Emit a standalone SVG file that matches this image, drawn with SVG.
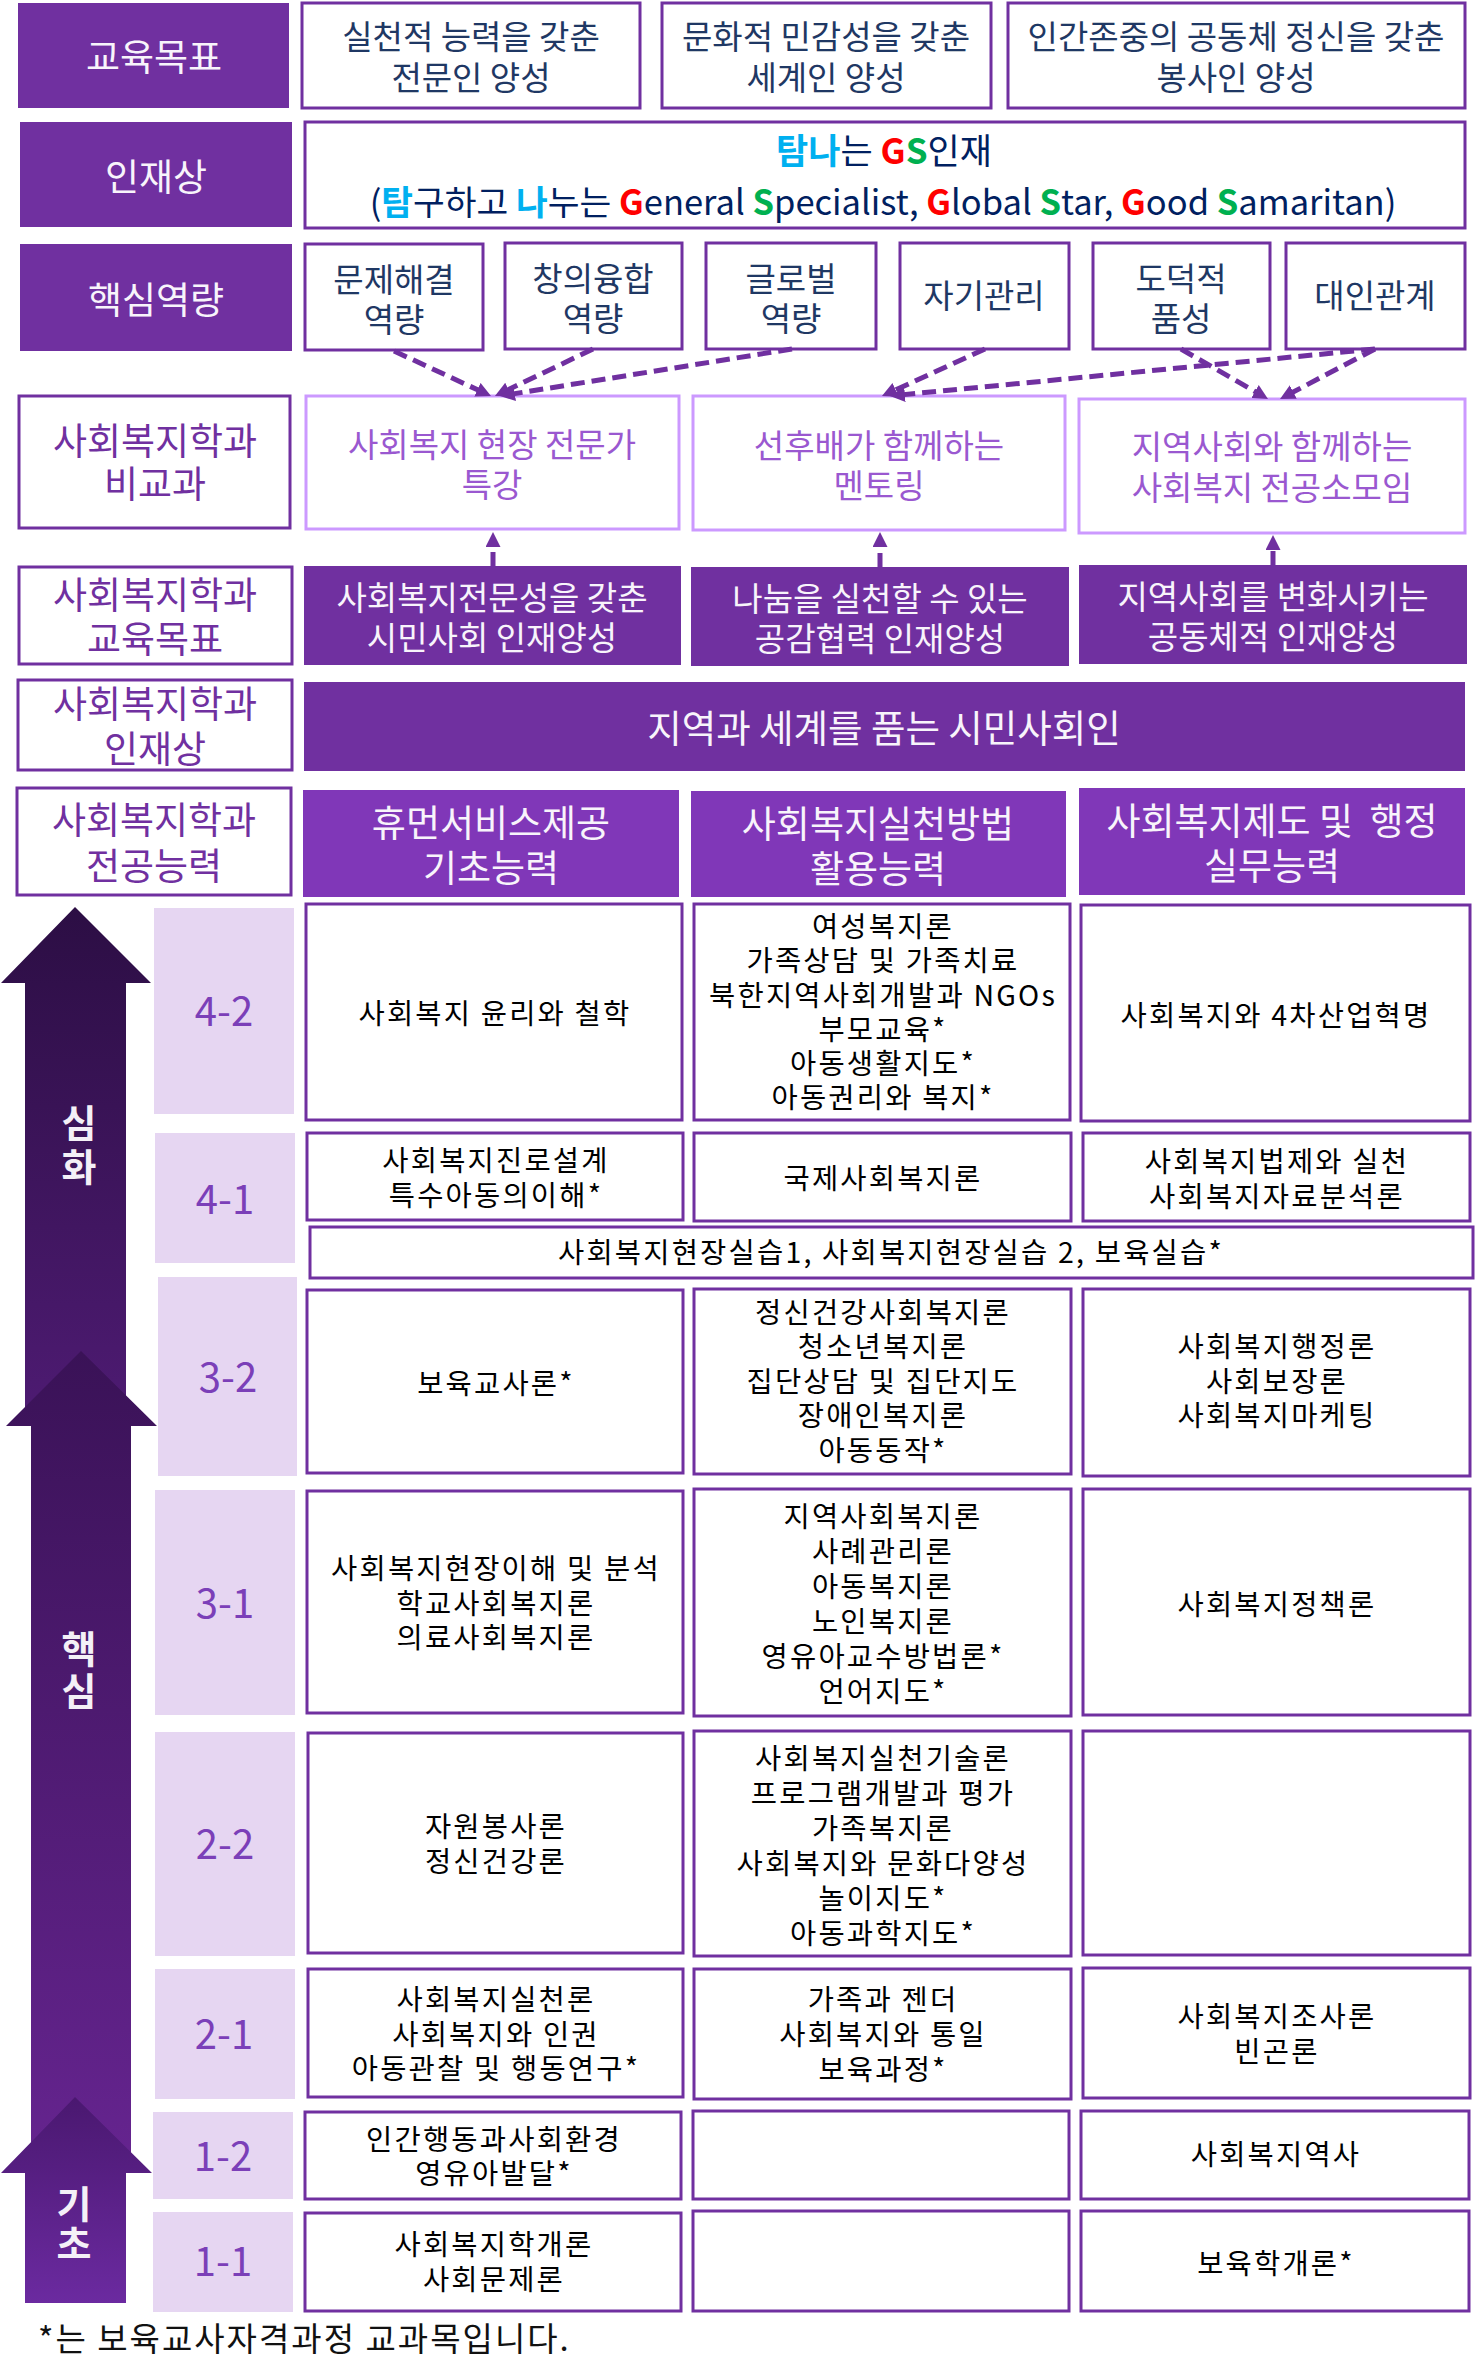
<svg xmlns="http://www.w3.org/2000/svg" width="1475" height="2380" viewBox="0 0 1475 2380">
<style>
text{font-family:"Noto Sans CJK KR","Noto Sans",sans-serif;text-anchor:middle;dominant-baseline:central}
.hd{fill:#7030A0}
.hd2{fill:#8037B8}
.bx{fill:#fff;stroke:#7030A0;stroke-width:3}
.lbx{fill:#fff;stroke:#CC99FF;stroke-width:3}
.sem{fill:#E6D6F2}
.tw{fill:#F8F4FB;font-size:37px}
.tw30{fill:#F8F4FB;font-size:33px}
.tn{fill:#1F3864;font-size:33px}
.tp{fill:#7030A0;font-size:37px}
.tl{fill:#9A58D0;font-size:33px}
.tc{fill:#000;font-size:28.5px;letter-spacing:2.2px}
.ts{fill:#7B3FB8;font-size:40px}
.ta{fill:#F4F0F7;font-size:38px;font-weight:bold}
.cy{fill:#00B0F0;font-weight:bold}
.rd{fill:#FF0000;font-weight:bold}
.gr{fill:#00B050;font-weight:bold}
.conn{stroke:#7030A0;stroke-width:5;stroke-dasharray:14 7;fill:none}
</style>
<defs>
<marker id="ah" viewBox="0 0 10 10" refX="3.3" refY="5" markerWidth="3" markerHeight="3" orient="auto">
<path d="M0,0 L10,5 L0,10 z" fill="#7030A0"/>
</marker>
<linearGradient id="g1" gradientUnits="userSpaceOnUse" x1="0" y1="907" x2="0" y2="1426">
<stop offset="0" stop-color="#2C0E44"/><stop offset="1" stop-color="#4E1B73"/>
</linearGradient>
<linearGradient id="g2" gradientUnits="userSpaceOnUse" x1="0" y1="1351" x2="0" y2="2160">
<stop offset="0" stop-color="#3A1257"/><stop offset="1" stop-color="#65248F"/>
</linearGradient>
<linearGradient id="g3" gradientUnits="userSpaceOnUse" x1="0" y1="2097" x2="0" y2="2303">
<stop offset="0" stop-color="#4A1870"/><stop offset="1" stop-color="#6B2AA0"/>
</linearGradient>
</defs>
<rect width="1475" height="2380" fill="#fff"/>

<!-- Row 1: 교육목표 -->
<g id="label-edu-goal"><rect class="hd" x="18" y="3" width="271" height="105"/><text class="tw" x="154" y="55">교육목표</text></g>
<g id="goal-1"><rect class="bx" x="302" y="3" width="338" height="105"/><text class="tn" x="471" y="35">실천적 능력을 갖춘</text><text class="tn" x="471" y="76">전문인 양성</text></g>
<g id="goal-2"><rect class="bx" x="662" y="3" width="329" height="105"/><text class="tn" x="826" y="35">문화적 민감성을 갖춘</text><text class="tn" x="826" y="76">세계인 양성</text></g>
<g id="goal-3"><rect class="bx" x="1008" y="3" width="457" height="105"/><text class="tn" x="1236" y="35">인간존중의 공동체 정신을 갖춘</text><text class="tn" x="1236" y="76">봉사인 양성</text></g>

<!-- Row 2: 인재상 -->
<g id="label-talent"><rect class="hd" x="20" y="122" width="272" height="105"/><text class="tw" x="156" y="175">인재상</text></g>
<g id="talent"><rect class="bx" x="305" y="122" width="1160" height="106"/>
<text x="884" y="148" style="font-size:35px;fill:#002060"><tspan class="cy">탐나</tspan>는 <tspan class="rd">G</tspan><tspan class="gr">S</tspan>인재</text>
<text x="883" y="200" style="font-size:34.5px;fill:#002060">(<tspan class="cy">탐</tspan>구하고 <tspan class="cy">나</tspan>누는 <tspan class="rd">G</tspan>eneral <tspan class="gr">S</tspan>pecialist, <tspan class="rd">G</tspan>lobal <tspan class="gr">S</tspan>tar, <tspan class="rd">G</tspan>ood <tspan class="gr">S</tspan>amaritan)</text>
</g>

<!-- Row 3: 핵심역량 -->
<g id="label-core"><rect class="hd" x="20" y="244" width="272" height="107"/><text class="tw" x="156" y="298">핵심역량</text></g>
<g id="core-1"><rect class="bx" x="305" y="244" width="178" height="106"/><text class="tn" x="394" y="278">문제해결</text><text class="tn" x="394" y="318">역량</text></g>
<g id="core-2"><rect class="bx" x="505" y="243" width="177" height="106"/><text class="tn" x="593" y="277">창의융합</text><text class="tn" x="593" y="317">역량</text></g>
<g id="core-3"><rect class="bx" x="706" y="243" width="170" height="106"/><text class="tn" x="791" y="277">글로벌</text><text class="tn" x="791" y="317">역량</text></g>
<g id="core-4"><rect class="bx" x="900" y="243" width="169" height="106"/><text class="tn" x="984" y="294">자기관리</text></g>
<g id="core-5"><rect class="bx" x="1093" y="243" width="177" height="106"/><text class="tn" x="1181" y="277">도덕적</text><text class="tn" x="1181" y="317">품성</text></g>
<g id="core-6"><rect class="bx" x="1286" y="243" width="179" height="106"/><text class="tn" x="1375" y="294">대인관계</text></g>

<!-- Row 4: 비교과 -->
<g id="label-extra"><rect class="bx" x="19" y="396" width="271" height="132"/><text class="tp" x="155" y="439">사회복지학과</text><text class="tp" x="155" y="482">비교과</text></g>
<g id="extra-1"><rect class="lbx" x="306" y="396" width="373" height="133"/><text class="tl" x="492" y="443">사회복지 현장 전문가</text><text class="tl" x="492" y="483">특강</text></g>
<g id="extra-2"><rect class="lbx" x="693" y="396" width="372" height="134"/><text class="tl" x="879" y="444">선후배가 함께하는</text><text class="tl" x="879" y="484">멘토링</text></g>
<g id="extra-3"><rect class="lbx" x="1079" y="399" width="386" height="134"/><text class="tl" x="1272" y="445">지역사회와 함께하는</text><text class="tl" x="1272" y="486">사회복지 전공소모임</text></g>

<!-- Row 5: 학과 교육목표 -->
<g id="label-dept-goal"><rect class="bx" x="19" y="567" width="273" height="97"/><text class="tp" x="155" y="593">사회복지학과</text><text class="tp" x="155" y="637">교육목표</text></g>
<g id="dept-goal-1"><rect class="hd" x="304" y="566" width="377" height="99"/><text class="tw30" x="492" y="596">사회복지전문성을 갖춘</text><text class="tw30" x="492" y="636">시민사회 인재양성</text></g>
<g id="dept-goal-2"><rect class="hd" x="691" y="567" width="378" height="99"/><text class="tw30" x="880" y="597">나눔을 실천할 수 있는</text><text class="tw30" x="880" y="637">공감협력 인재양성</text></g>
<g id="dept-goal-3"><rect class="hd" x="1079" y="565" width="388" height="99"/><text class="tw30" x="1273" y="595">지역사회를 변화시키는</text><text class="tw30" x="1273" y="635">공동체적 인재양성</text></g>

<!-- Row 6: 학과 인재상 -->
<g id="label-dept-talent"><rect class="bx" x="18" y="680" width="274" height="90"/><text class="tp" x="155" y="702">사회복지학과</text><text class="tp" x="155" y="747">인재상</text></g>
<g id="dept-talent"><rect class="hd" x="304" y="682" width="1161" height="89"/><text class="tw" x="884" y="725" style="font-size:37.5px">지역과 세계를 품는 시민사회인</text></g>

<!-- Row 7: 전공능력 -->
<g id="label-major"><rect class="bx" x="17" y="788" width="274" height="107"/><text class="tp" x="154" y="818">사회복지학과</text><text class="tp" x="154" y="864">전공능력</text></g>
<g id="major-1"><rect class="hd2" x="303" y="790" width="376" height="107"/><text class="tw" x="491" y="821">휴먼서비스제공</text><text class="tw" x="491" y="866">기초능력</text></g>
<g id="major-2"><rect class="hd2" x="691" y="791" width="375" height="106"/><text class="tw" x="878" y="822">사회복지실천방법</text><text class="tw" x="878" y="867">활용능력</text></g>
<g id="major-3"><rect class="hd2" x="1079" y="788" width="386" height="107"/><text class="tw" x="1272" y="819" xml:space="preserve">사회복지제도 및  행정</text><text class="tw" x="1272" y="864">실무능력</text></g>

<!-- Level arrows -->
<g id="arrow-advanced"><polygon points="75,907 151,983 126,983 126,1426 25,1426 25,983 1,983" fill="url(#g1)"/><text class="ta" x="79"><tspan x="79" y="1120">심</tspan><tspan x="79" y="1164">화</tspan></text></g>
<g id="arrow-core"><polygon points="81,1351 157,1426 131,1426 131,2160 31,2160 31,1426 6,1426" fill="url(#g2)"/><text class="ta" x="79"><tspan x="79" y="1646">핵</tspan><tspan x="79" y="1688">심</tspan></text></g>
<g id="arrow-basic"><polygon points="75,2097 152,2173 126,2173 126,2303 25,2303 25,2173 1,2173" fill="url(#g3)"/><text class="ta" x="74"><tspan x="74" y="2201">기</tspan><tspan x="74" y="2241">초</tspan></text></g>

<!-- Semester labels -->
<g id="sem-4-2"><rect class="sem" x="154" y="908" width="140" height="206"/><text class="ts" x="224" y="1009">4-2</text></g>
<g id="sem-4-1"><rect class="sem" x="155" y="1133" width="140" height="130"/><text class="ts" x="225" y="1197">4-1</text></g>
<g id="sem-3-2"><rect class="sem" x="158" y="1277" width="139" height="199"/><text class="ts" x="228" y="1375">3-2</text></g>
<g id="sem-3-1"><rect class="sem" x="155" y="1490" width="140" height="225"/><text class="ts" x="225" y="1601">3-1</text></g>
<g id="sem-2-2"><rect class="sem" x="155" y="1732" width="140" height="224"/><text class="ts" x="225" y="1842">2-2</text></g>
<g id="sem-2-1"><rect class="sem" x="155" y="1969" width="140" height="130"/><text class="ts" x="224" y="2032">2-1</text></g>
<g id="sem-1-2"><rect class="sem" x="153" y="2112" width="140" height="87"/><text class="ts" x="223" y="2154">1-2</text></g>
<g id="sem-1-1"><rect class="sem" x="153" y="2212" width="140" height="100"/><text class="ts" x="223" y="2259">1-1</text></g>

<!-- Courses 4-2 -->
<g id="c42-1"><rect class="bx" x="306" y="904" width="376" height="216"/><text class="tc" x="495" y="1011">사회복지 윤리와 철학</text></g>
<g id="c42-2"><rect class="bx" x="694" y="904" width="376" height="216"/><text class="tc" x="883" y="924">여성복지론</text><text class="tc" x="883" y="958">가족상담 및 가족치료</text><text class="tc" x="883" y="993">북한지역사회개발과 NGOs</text><text class="tc" x="883" y="1027">부모교육*</text><text class="tc" x="883" y="1061">아동생활지도*</text><text class="tc" x="883" y="1095">아동권리와 복지*</text></g>
<g id="c42-3"><rect class="bx" x="1081" y="905" width="389" height="216"/><text class="tc" x="1276" y="1013">사회복지와 4차산업혁명</text></g>
<!-- 4-1 -->
<g id="c41-1"><rect class="bx" x="307" y="1133" width="376" height="87"/><text class="tc" x="496" y="1158">사회복지진로설계</text><text class="tc" x="496" y="1193">특수아동의이해*</text></g>
<g id="c41-2"><rect class="bx" x="694" y="1133" width="377" height="88"/><text class="tc" x="883" y="1176">국제사회복지론</text></g>
<g id="c41-3"><rect class="bx" x="1083" y="1133" width="387" height="88"/><text class="tc" x="1277" y="1159">사회복지법제와 실천</text><text class="tc" x="1277" y="1194">사회복지자료분석론</text></g>
<g id="c-practicum"><rect class="bx" x="310" y="1227" width="1163" height="51"/><text class="tc" x="891" y="1250">사회복지현장실습1, 사회복지현장실습 2, 보육실습*</text></g>
<!-- 3-2 -->
<g id="c32-1"><rect class="bx" x="307" y="1290" width="376" height="183"/><text class="tc" x="496" y="1381">보육교사론*</text></g>
<g id="c32-2"><rect class="bx" x="694" y="1289" width="377" height="185"/><text class="tc" x="883" y="1310">정신건강사회복지론</text><text class="tc" x="883" y="1344">청소년복지론</text><text class="tc" x="883" y="1379">집단상담 및 집단지도</text><text class="tc" x="883" y="1413">장애인복지론</text><text class="tc" x="883" y="1448">아동동작*</text></g>
<g id="c32-3"><rect class="bx" x="1083" y="1289" width="387" height="187"/><text class="tc" x="1277" y="1344">사회복지행정론</text><text class="tc" x="1277" y="1379">사회보장론</text><text class="tc" x="1277" y="1413">사회복지마케팅</text></g>
<!-- 3-1 -->
<g id="c31-1"><rect class="bx" x="307" y="1491" width="376" height="222"/><text class="tc" x="496" y="1566">사회복지현장이해 및 분석</text><text class="tc" x="496" y="1601">학교사회복지론</text><text class="tc" x="496" y="1635">의료사회복지론</text></g>
<g id="c31-2"><rect class="bx" x="694" y="1489" width="377" height="227"/><text class="tc" x="883" y="1514">지역사회복지론</text><text class="tc" x="883" y="1549">사례관리론</text><text class="tc" x="883" y="1584">아동복지론</text><text class="tc" x="883" y="1619">노인복지론</text><text class="tc" x="883" y="1654">영유아교수방법론*</text><text class="tc" x="883" y="1689">언어지도*</text></g>
<g id="c31-3"><rect class="bx" x="1083" y="1489" width="387" height="226"/><text class="tc" x="1277" y="1602">사회복지정책론</text></g>
<!-- 2-2 -->
<g id="c22-1"><rect class="bx" x="308" y="1733" width="375" height="220"/><text class="tc" x="496" y="1824">자원봉사론</text><text class="tc" x="496" y="1859">정신건강론</text></g>
<g id="c22-2"><rect class="bx" x="694" y="1731" width="377" height="225"/><text class="tc" x="883" y="1756">사회복지실천기술론</text><text class="tc" x="883" y="1791">프로그램개발과 평가</text><text class="tc" x="883" y="1826">가족복지론</text><text class="tc" x="883" y="1861">사회복지와 문화다양성</text><text class="tc" x="883" y="1896">놀이지도*</text><text class="tc" x="883" y="1931">아동과학지도*</text></g>
<g id="c22-3"><rect class="bx" x="1083" y="1731" width="387" height="224"/></g>
<!-- 2-1 -->
<g id="c21-1"><rect class="bx" x="308" y="1969" width="375" height="128"/><text class="tc" x="496" y="1997">사회복지실천론</text><text class="tc" x="496" y="2032">사회복지와 인권</text><text class="tc" x="496" y="2066">아동관찰 및 행동연구*</text></g>
<g id="c21-2"><rect class="bx" x="694" y="1969" width="377" height="130"/><text class="tc" x="883" y="1997">가족과 젠더</text><text class="tc" x="883" y="2032">사회복지와 통일</text><text class="tc" x="883" y="2067">보육과정*</text></g>
<g id="c21-3"><rect class="bx" x="1083" y="1968" width="387" height="130"/><text class="tc" x="1277" y="2014">사회복지조사론</text><text class="tc" x="1277" y="2049">빈곤론</text></g>
<!-- 1-2 -->
<g id="c12-1"><rect class="bx" x="305" y="2112" width="376" height="87"/><text class="tc" x="494" y="2137">인간행동과사회환경</text><text class="tc" x="494" y="2171">영유아발달*</text></g>
<g id="c12-2"><rect class="bx" x="693" y="2111" width="376" height="88"/></g>
<g id="c12-3"><rect class="bx" x="1081" y="2111" width="388" height="88"/><text class="tc" x="1276" y="2152">사회복지역사</text></g>
<!-- 1-1 -->
<g id="c11-1"><rect class="bx" x="305" y="2213" width="376" height="98"/><text class="tc" x="494" y="2242">사회복지학개론</text><text class="tc" x="494" y="2277">사회문제론</text></g>
<g id="c11-2"><rect class="bx" x="693" y="2211" width="376" height="100"/></g>
<g id="c11-3"><rect class="bx" x="1081" y="2211" width="388" height="100"/><text class="tc" x="1276" y="2261">보육학개론*</text></g>

<g id="footnote"><text x="38" y="2337" style="text-anchor:start;font-size:33px;fill:#111;letter-spacing:2px">*는 보육교사자격과정 교과목입니다.</text></g>

<!-- Connectors -->
<g id="connectors">
<line class="conn" x1="394" y1="351" x2="481.9" y2="391.8" marker-end="url(#ah)"/>
<line class="conn" x1="593" y1="349" x2="504" y2="391.7" marker-end="url(#ah)"/>
<line class="conn" x1="792" y1="349" x2="509.9" y2="394.4" marker-end="url(#ah)"/>
<line class="conn" x1="985" y1="349" x2="891.1" y2="391.9" marker-end="url(#ah)"/>
<line class="conn" x1="1375" y1="349" x2="900" y2="395" marker-end="url(#ah)"/>
<line class="conn" x1="1181" y1="349" x2="1259.3" y2="394" marker-end="url(#ah)"/>
<line class="conn" x1="1375" y1="349" x2="1288.9" y2="394.3" marker-end="url(#ah)"/>
<line class="conn" x1="493" y1="566" x2="493" y2="542" marker-end="url(#ah)"/>
<line class="conn" x1="880" y1="567" x2="880" y2="542" marker-end="url(#ah)"/>
<line class="conn" x1="1273" y1="565" x2="1273" y2="545" marker-end="url(#ah)"/>
</g>
</svg>
